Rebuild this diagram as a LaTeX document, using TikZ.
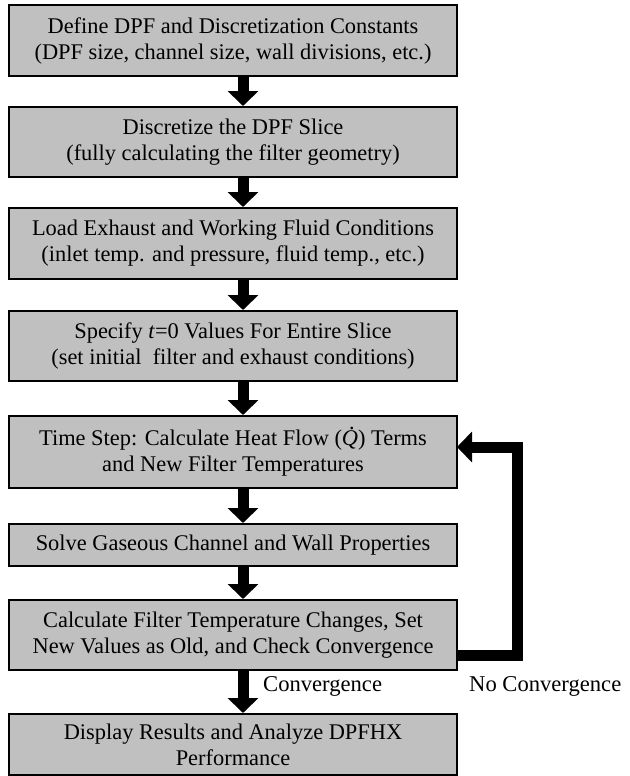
\documentclass[tikz,border=0pt]{standalone}
\usepackage{fontspec}
\setmainfont{Liberation Serif}
\usetikzlibrary{arrows.meta,calc}
\newcommand{\qdotmark}{{\itshape\rlap{\hspace{0.34em}\raisebox{0.72em}{.}}Q}}
\begin{document}
\begin{tikzpicture}[x=1pt,y=-1pt,
  box/.style={draw=black,line width=2pt,fill={rgb,255:red,192;green,192;blue,192},
    minimum width=448pt,inner sep=0pt,align=center,
    font=\fontsize{22.4}{26}\selectfont},
  flow/.style={line width=11pt,-{Triangle[width=30pt,length=15pt]}},
  lbl/.style={font=\fontsize{22.6}{26}\selectfont,inner sep=0pt}]
\useasboundingbox (0,0) rectangle (629,776);
\node[box,minimum height=71pt] (b1) at (233,40.5) {Define DPF and Discretization Constants\\(DPF size, channel size, wall divisions, etc.)};
\node[box,minimum height=70pt] (b2) at (233,142) {Discretize the DPF Slice\\(fully calculating the filter geometry)};
\node[box,minimum height=71pt] (b3) at (233,243.5) {Load Exhaust and Working Fluid Conditions\\(inlet temp. and pressure, fluid temp., etc.)};
\node[box,minimum height=70pt] (b4) at (233,346) {Specify \textit{t}=0 Values For Entire Slice\\(set initial\ \ filter and exhaust conditions)};
\node[box,minimum height=72pt] (b5) at (233,452) {Time Step: Calculate Heat Flow (\qdotmark) Terms\\and New Filter Temperatures};
\node[box,minimum height=42pt] (b6) at (233,545) {Solve Gaseous Channel and Wall Properties};
\node[box,minimum height=70pt] (b7) at (233,635) {Calculate Filter Temperature Changes, Set\\New Values as Old, and Check Convergence};
\node[box,minimum height=61pt] (b8) at (233,744.5) {Display Results and Analyze DPFHX\\Performance};
\coordinate (ax) at (243,0);
\foreach \a/\b in {b1/b2,b2/b3,b3/b4,b4/b5,b5/b6,b6/b7,b7/b8}
  \draw[flow] (\a.south -| ax) -- (\b.north -| ax);
\coordinate (fbout) at (457,655);
\coordinate (fbin) at (457,447);
\coordinate (fbx) at (517,0);
\draw[flow,line join=miter] (fbout) -- (fbout -| fbx) -- (fbin -| fbx) -- (fbin);
\node[lbl,anchor=west] (conv) at (263,686) {Convergence};
\node[lbl,anchor=west] (noconv) at (469,686) {No Convergence};
\end{tikzpicture}
\end{document}
